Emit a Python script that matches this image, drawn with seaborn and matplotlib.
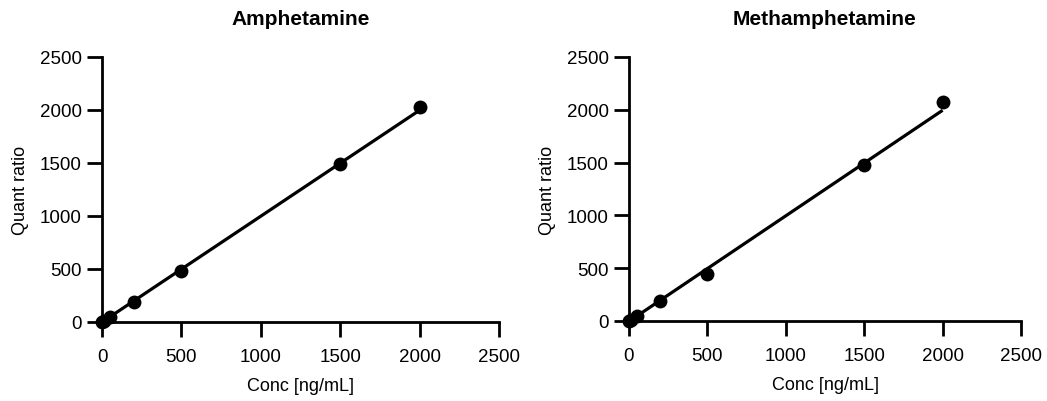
import numpy as np
import pandas as pd
import matplotlib
matplotlib.use("Agg")
import matplotlib.pyplot as plt
import seaborn as sns

sns.set_style("ticks")
plt.rcParams['font.family'] = ['Liberation Sans', 'DejaVu Sans']
plt.rcParams['text.color'] = 'black'
plt.rcParams['axes.labelcolor'] = 'black'

conc = [0, 10, 50, 200, 500, 1500, 2000]
amph_ratio = [0, 10, 45, 190, 483, 1492, 2030]
meth_ratio = [0, 8, 45, 189, 445, 1475, 2075]
titles = ["Amphetamine", "Methamphetamine"]
ticks = [0, 500, 1000, 1500, 2000, 2500]

W, H = 1047, 402
fig = plt.figure(figsize=(W / 100, H / 100), dpi=100)
boxes = [(102, 323, 397, 265), (629, 322, 392, 264)]

for (x0, y0, w, h), title, ratio in zip(boxes, titles, [amph_ratio, meth_ratio]):
    ax = fig.add_axes([x0 / W, (H - y0) / H, w / W, h / H])
    df = pd.DataFrame({"conc": conc, "ratio": ratio})
    # 1/x weighted linear calibration fit
    xs = np.array(conc[1:], float)
    ys = np.array(ratio[1:], float)
    slope, icpt = np.polyfit(xs, ys, 1, w=1 / np.sqrt(xs))
    fit = pd.DataFrame({"conc": [0, max(conc)]})
    fit["ratio"] = icpt + slope * fit["conc"]
    sns.lineplot(data=fit, x="conc", y="ratio", ax=ax, color="black", lw=2.3,
                 clip_on=False, solid_capstyle="butt")
    sns.scatterplot(data=df, x="conc", y="ratio", ax=ax, color="black", s=100,
                    linewidth=0, clip_on=False, zorder=5)
    ax.set_xlim(0, 2500)
    ax.set_ylim(0, 2500)
    ax.set_xticks(ticks)
    ax.set_yticks(ticks)
    sns.despine(ax=ax)
    for s in ["left", "bottom"]:
        ax.spines[s].set_linewidth(2.0)
        ax.spines[s].set_color("black")
    ax.tick_params(axis="both", length=10.5, width=2.0, labelsize=13.5, colors="black")
    ax.tick_params(axis="x", pad=8)
    ax.tick_params(axis="y", pad=4)
    ax.set_xlabel("Conc [ng/mL]", fontsize=13, labelpad=9)
    ax.set_ylabel("Quant ratio", fontsize=13, labelpad=8)
    ax.set_title(title, fontsize=15, fontweight="bold", pad=24)

fig.savefig("out.png", dpi=100)
